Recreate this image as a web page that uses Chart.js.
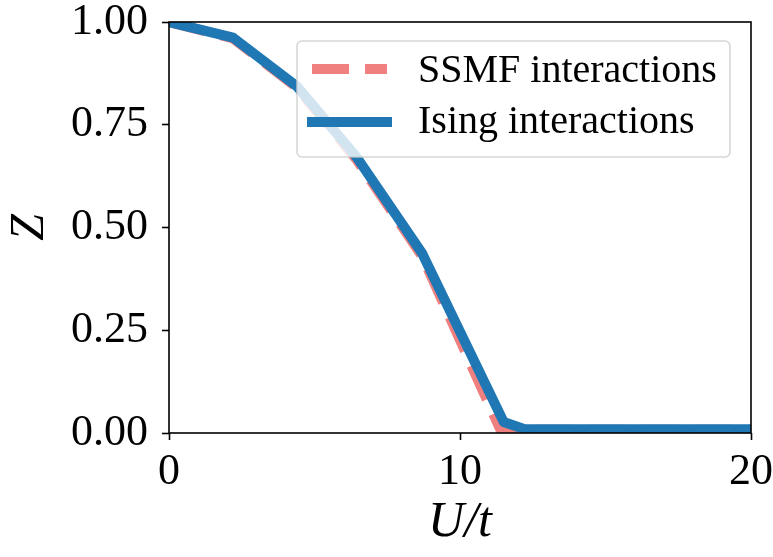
<!DOCTYPE html>
<html>
<head>
<meta charset="utf-8">
<script src="https://cdn.jsdelivr.net/npm/chart.js@4.4.0/dist/chart.umd.min.js"></script>
<style>
  body { margin: 0; background: #fff; }
  #wrap { width: 773px; height: 557px; position: relative; }
</style>
</head>
<body>
<div id="wrap"><canvas id="myChart"></canvas></div>
<script>
// values
const ssmfU = [0, 2.2, 4.4, 6.45, 8.7, 11.4, 12.2, 20];
const ssmfZ = [1.0, 0.96, 0.84, 0.665, 0.43, 0.006, 0.008, 0.008];
const isingU = [0, 2.2, 4.4, 6.45, 8.7, 11.5, 12.2, 20];
const isingZ = [1.0, 0.962, 0.843, 0.671, 0.437, 0.027, 0.01, 0.009];
const seriesNames = ["SSMF interactions", "Ising interactions"];
const xTicks = [0, 10, 20];
const yTicks = [0, 0.25, 0.5, 0.75, 1];

const SERIF = "'Liberation Serif', 'DejaVu Serif', serif";
const blue = "#1f77b4";
const coral = "#f08080";

function pts(xs, ys) {
  return xs.map((v, i) => ({ x: v, y: ys[i] }));
}

// frame + legend drawn like matplotlib
const framePlugin = {
  id: "frame",
  afterDatasetsDraw(chart) {
    const c = chart.ctx;
    const a = chart.chartArea;
    c.save();
    c.strokeStyle = "#000";
    c.lineWidth = 1.6;
    c.strokeRect(a.left, a.top, a.right - a.left, a.bottom - a.top);

    // legend box
    const bx = 297, by = 41, bw = 433, bh = 116, r = 5;
    c.beginPath();
    c.roundRect(bx, by, bw, bh, r);
    c.fillStyle = "rgba(255,255,255,0.8)";
    c.fill();
    c.strokeStyle = "rgba(204,204,204,0.8)";
    c.lineWidth = 1.6;
    c.stroke();

    c.lineWidth = 10;
    c.beginPath();
    c.setLineDash([37, 16]);
    c.lineCap = "butt";
    c.strokeStyle = coral;
    c.moveTo(312, 69);
    c.lineTo(387, 69);
    c.stroke();

    c.beginPath();
    c.setLineDash([]);
    c.lineCap = "square";
    c.strokeStyle = blue;
    c.moveTo(312, 122);
    c.lineTo(387, 122);
    c.stroke();

    c.fillStyle = "#000";
    c.font = "40px " + SERIF;
    c.textBaseline = "alphabetic";
    c.textAlign = "left";
    c.fillText(seriesNames[0], 418, 82);
    c.fillText(seriesNames[1], 418, 133);
    c.restore();
  },
};

const ctx = document.getElementById("myChart");

let myChart = new Chart(ctx, {
  type: "line",
  data: {
    datasets: [
      {
        label: seriesNames[0],
        data: pts(ssmfU, ssmfZ),
        borderColor: coral,
        borderWidth: 10,
        borderDash: [37, 16],
        borderCapStyle: "butt",
        borderJoinStyle: "round",
        pointRadius: 0,
        tension: 0,
        clip: 0,
        order: 1,
      },
      {
        label: seriesNames[1],
        data: pts(isingU, isingZ),
        borderColor: blue,
        borderWidth: 10,
        borderCapStyle: "square",
        borderJoinStyle: "round",
        pointRadius: 0,
        tension: 0,
        clip: 0,
        order: 0,
      },
    ],
  },
  options: {
    responsive: true,
    maintainAspectRatio: false,
    animation: false,
    layout: { padding: { left: 0, right: 22, top: 22, bottom: 0 } },
    plugins: { legend: { display: false }, tooltip: { enabled: false } },
    scales: {
      x: {
        type: "linear",
        min: 0,
        max: 20,
        afterBuildTicks: (s) => { s.ticks = xTicks.map((v) => ({ value: v })); },
        afterFit: (s) => {
          s.height = 124;
          s.paddingLeft = 0;
          s.paddingRight = 0;
        },
        grid: { drawOnChartArea: false, drawTicks: true, tickLength: 7, tickColor: "#000", tickWidth: 1.6 },
        border: { display: false },
        ticks: {
          color: "#000",
          padding: 6,
          maxRotation: 0,
          font: { family: SERIF, size: 44 },
          callback: (v) => String(v),
        },
        title: {
          display: true,
          text: "U/t",
          color: "#000",
          font: { family: SERIF, size: 50, style: "italic" },
          padding: { top: 0, bottom: 4 },
        },
      },
      y: {
        min: 0,
        max: 1,
        afterBuildTicks: (s) => { s.ticks = yTicks.map((v) => ({ value: v })); },
        afterFit: (s) => {
          s.width = 169;
          s.paddingTop = 0;
          s.paddingBottom = 0;
        },
        grid: { drawOnChartArea: false, drawTicks: true, tickLength: 7, tickColor: "#000", tickWidth: 1.6 },
        border: { display: false },
        ticks: {
          color: "#000",
          padding: 14,
          font: { family: SERIF, size: 44 },
          callback: (v) => v.toFixed(2),
        },
        title: {
          display: true,
          text: "Z",
          color: "#000",
          font: { family: SERIF, size: 48, style: "italic" },
          padding: { top: 2, bottom: 0 },
        },
      },
    },
  },
  plugins: [framePlugin],
});
</script>
</body>
</html>
